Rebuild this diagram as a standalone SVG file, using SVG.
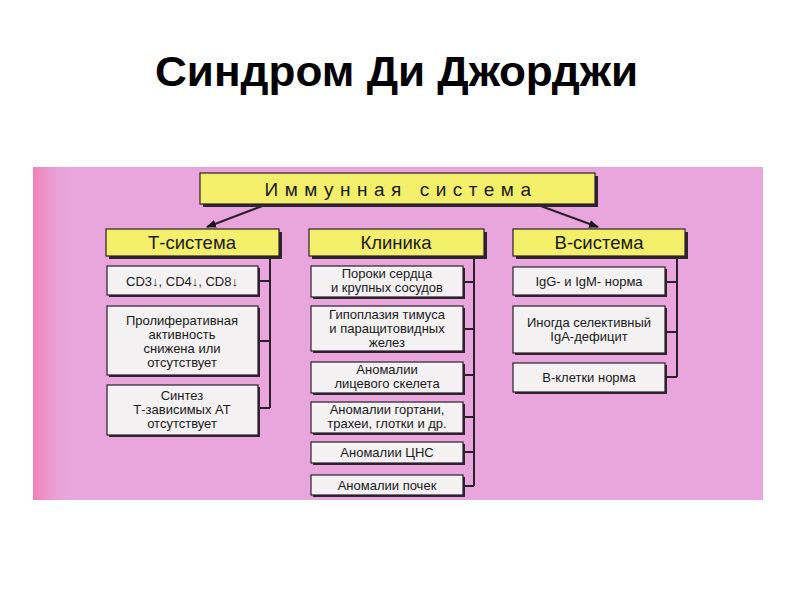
<svg xmlns="http://www.w3.org/2000/svg" width="794" height="595" viewBox="0 0 794 595">
<defs>
<linearGradient id="edge" x1="0" y1="0" x2="1" y2="0">
<stop offset="0" stop-color="#f080b4"/>
<stop offset="1" stop-color="#e8a6dc" stop-opacity="0"/>
</linearGradient>
<marker id="arr" markerWidth="10" markerHeight="8" refX="9" refY="4" orient="auto" markerUnits="userSpaceOnUse">
<path d="M0,0 L10,4 L0,8 Z" fill="#1e141e"/>
</marker>
<style>
.title{font-family:"Liberation Sans",Arial,sans-serif;font-weight:bold;font-size:42px;fill:#000}
.box{fill:#f3f1f2;stroke:#2a1f2a;stroke-width:1.2}
.hdr{fill:#f3ef6a;stroke:#2a1f2a;stroke-width:1.2}
.sh{fill:#2e232e}
.t{font-family:"Liberation Sans",Arial,sans-serif;font-size:13px;fill:#1a1a1a;text-anchor:middle}
.h{font-family:"Liberation Sans",Arial,sans-serif;font-size:18.5px;fill:#1a1a1a;text-anchor:middle}
.con{stroke:#2a1f2a;stroke-width:2;fill:none}
</style>
</defs>
<rect width="794" height="595" fill="#fff"/>
<text class="title" x="155" y="86" textLength="483" lengthAdjust="spacingAndGlyphs">Синдром Ди Джорджи</text>
<rect x="33" y="167" width="730" height="333" fill="#e8a6dc"/>
<rect x="33" y="167" width="40" height="333" fill="url(#edge)"/>

<g id="connectors">
<path class="con" d="M265,205 L207,227" marker-end="url(#arr)"/>
<path class="con" d="M538,205 L598,227" marker-end="url(#arr)"/>
<path class="con" d="M270,256 V408 M258,281 H270 M258,341 H270 M258,408 H270"/>
<path class="con" d="M474,256 V486 M463,282 H474 M463,329 H474 M463,375 H474 M463,417 H474 M463,452 H474 M463,486 H474"/>
<path class="con" d="M677,257 V377 M665,282 H677 M665,332 H677 M665,377 H677"/>
</g>

<g id="top">
<rect class="sh" x="203" y="176" width="395" height="31"/>
<rect class="hdr" x="200" y="173" width="395" height="31"/>
<text x="401" y="196" style="font-family:'Liberation Sans',Arial,sans-serif;font-size:19px;fill:#1a1a1a;text-anchor:middle;letter-spacing:6.5px">Иммунная система</text>
</g>

<g id="t-system">
<rect class="sh" x="109" y="232" width="173" height="27"/>
<rect class="hdr" x="106" y="229" width="173" height="27"/>
<text class="h" x="192" y="249">Т-система</text>
</g>
<g id="clinic">
<rect class="sh" x="312" y="232" width="175" height="27"/>
<rect class="hdr" x="309" y="229" width="175" height="27"/>
<text class="h" x="396" y="249">Клиника</text>
</g>
<g id="b-system">
<rect class="sh" x="516" y="232" width="172" height="27"/>
<rect class="hdr" x="513" y="229" width="172" height="27"/>
<text class="h" x="599" y="249">В-система</text>
</g>

<g id="t1">
<rect class="sh" x="109" y="268" width="151" height="29"/>
<rect class="box" x="107" y="266" width="151" height="29"/>
<text class="t" x="182" y="285.5">CD3↓, CD4↓, CD8↓</text>
</g>
<g id="t2">
<rect class="sh" x="109" y="308" width="151" height="69"/>
<rect class="box" x="107" y="306" width="151" height="69"/>
<text class="t" x="182" y="324.5">Пролиферативная</text>
<text class="t" x="182" y="338.5">активность</text>
<text class="t" x="182" y="352.5">снижена или</text>
<text class="t" x="182" y="366.5">отсутствует</text>
</g>
<g id="t3">
<rect class="sh" x="109" y="387" width="151" height="50"/>
<rect class="box" x="107" y="385" width="151" height="50"/>
<text class="t" x="182" y="400">Синтез</text>
<text class="t" x="182" y="414">Т-зависимых АТ</text>
<text class="t" x="182" y="428">отсутствует</text>
</g>

<g id="c1">
<rect class="sh" x="313" y="268" width="152" height="31"/>
<rect class="box" x="311" y="266" width="152" height="31"/>
<text class="t" x="387" y="278">Пороки сердца</text>
<text class="t" x="387" y="292">и крупных сосудов</text>
</g>
<g id="c2">
<rect class="sh" x="313" y="308" width="152" height="45"/>
<rect class="box" x="311" y="306" width="152" height="45"/>
<text class="t" x="387" y="318.5">Гипоплазия тимуса</text>
<text class="t" x="387" y="332.5">и паращитовидных</text>
<text class="t" x="387" y="346.5">желез</text>
</g>
<g id="c3">
<rect class="sh" x="313" y="364" width="152" height="31"/>
<rect class="box" x="311" y="362" width="152" height="31"/>
<text class="t" x="387" y="374">Аномалии</text>
<text class="t" x="387" y="388">лицевого скелета</text>
</g>
<g id="c4">
<rect class="sh" x="313" y="404" width="152" height="31"/>
<rect class="box" x="311" y="402" width="152" height="31"/>
<text class="t" x="387" y="414">Аномалии гортани,</text>
<text class="t" x="387" y="428">трахеи, глотки и др.</text>
</g>
<g id="c5">
<rect class="sh" x="313" y="444" width="152" height="21"/>
<rect class="box" x="311" y="442" width="152" height="21"/>
<text class="t" x="387" y="457">Аномалии ЦНС</text>
</g>
<g id="c6">
<rect class="sh" x="313" y="477" width="152" height="20"/>
<rect class="box" x="311" y="475" width="152" height="20"/>
<text class="t" x="387" y="490">Аномалии почек</text>
</g>

<g id="b1">
<rect class="sh" x="515" y="269" width="152" height="28"/>
<rect class="box" x="513" y="267" width="152" height="28"/>
<text class="t" x="589" y="286">IgG- и IgM- норма</text>
</g>
<g id="b2">
<rect class="sh" x="515" y="308" width="152" height="47"/>
<rect class="box" x="513" y="306" width="152" height="47"/>
<text class="t" x="589" y="326.5">Иногда селективный</text>
<text class="t" x="589" y="340.5">IgA-дефицит</text>
</g>
<g id="b3">
<rect class="sh" x="515" y="365" width="152" height="29"/>
<rect class="box" x="513" y="363" width="152" height="29"/>
<text class="t" x="589" y="382">В-клетки норма</text>
</g>
</svg>
